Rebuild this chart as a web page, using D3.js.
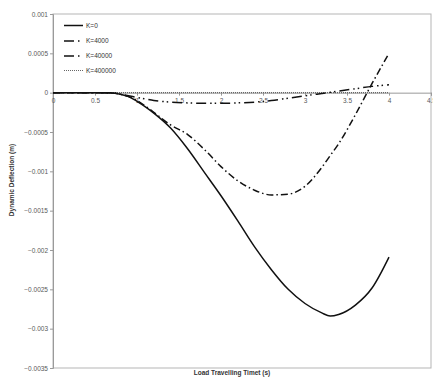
<!DOCTYPE html>
<html>
<head>
<meta charset="utf-8">
<script src="https://cdn.jsdelivr.net/npm/d3@7"></script>
<style>
  body { margin: 0; background: #fff; }
  svg { display: block; font-family: "Liberation Sans", Arial, sans-serif; }
</style>
</head>
<body>
<div id="vis"></div>
<script>
// Data
const TIMES = [0, 0.5, 0.7, 0.8, 0.9, 1.0, 1.1, 1.2, 1.4, 1.6, 1.8, 2.0, 2.2, 2.4, 2.6, 2.8, 3.0, 3.2, 3.3, 3.4, 3.6, 3.8, 4.0];
const K0 =      [0, 0, -0.000005, -0.00002, -0.00005, -0.00011, -0.00018, -0.00026, -0.00045, -0.00071, -0.00101, -0.00131, -0.00163, -0.00196, -0.00225, -0.0025, -0.00268, -0.0028, -0.00284, -0.00282, -0.0027, -0.00248, -0.00209];
const K4000 =   [0, 0, -0.000005, -0.00002, -0.00005, -0.0001, -0.00017, -0.00025, -0.00041, -0.00053, -0.00072, -0.00094, -0.00112, -0.00124, -0.0013, -0.00129, -0.00119, -0.00095, -0.0008, -0.00065, -0.00028, 0.00012, 0.0005];
const K40000 =  [0, 0, 0, -0.00002, -0.00004, -0.00006, -0.00008, -0.0001, -0.00012, -0.00013, -0.000135, -0.000135, -0.00013, -0.00012, -0.0001, -0.00007, -0.00004, -0.00001, 0.000005, 0.00002, 0.00005, 0.00008, 0.0001];
const K400000 = [0, 0, 0, 0, 0, 0, 0, 0, 0, 0, 0, 0, 0, 0, 0, 0, 0, 0, 0, 0, 0, 0, 0];
const SERIES_NAMES = ["K=0", "K=4000", "K=40000", "K=400000"];
const X_TICKS = [0, 0.5, 1, 1.5, 2, 2.5, 3, 3.5, 4, 4.5];
const Y_TICKS = [0.001, 0.0005, 0, -0.0005, -0.001, -0.0015, -0.002, -0.0025, -0.003, -0.0035];

const WIDTH = 433, HEIGHT = 379;
const PLOT = {left: 53, right: 431, top: 14, bottom: 368};

const X_SCALE = d3.scaleLinear().domain([0, 4.5]).range([PLOT.left, PLOT.right]);
const Y_SCALE = d3.scaleLinear().domain([0.001, -0.0035]).range([PLOT.top, PLOT.bottom]);

const svg = d3.select("#vis").append("svg")
    .attr("width", WIDTH)
    .attr("height", HEIGHT);

// plot border
svg.append("rect")
    .attr("x", PLOT.left).attr("y", PLOT.top)
    .attr("width", PLOT.right - PLOT.left)
    .attr("height", PLOT.bottom - PLOT.top)
    .attr("fill", "none")
    .attr("stroke", "#b5b5b5")
    .attr("stroke-width", 1);

// y axis
const yAxis = svg.append("g")
    .attr("transform", "translate(" + PLOT.left + ",0)")
    .call(d3.axisLeft(Y_SCALE).tickValues(Y_TICKS).tickSize(3).tickFormat(d => d3.format("")(+d.toPrecision(6))));
yAxis.select(".domain").attr("stroke", "#9a9a9a");
yAxis.selectAll(".tick line").attr("stroke", "#9a9a9a");
yAxis.selectAll(".tick text")
    .attr("fill", "#595959")
    .attr("font-size", "6.5px")
    .attr("font-family", "Liberation Sans, Arial, sans-serif")
    .attr("x", -5);

// x axis at zero (the last label runs off the right edge, as in the original)
const xAxis = svg.append("g")
    .attr("transform", "translate(0," + Y_SCALE(0) + ")")
    .call(d3.axisBottom(X_SCALE).tickValues(X_TICKS).tickSize(3).tickFormat(d => String(d)));
xAxis.select(".domain").attr("stroke", "#9a9a9a");
xAxis.selectAll(".tick line").attr("stroke", "#9a9a9a");
xAxis.selectAll(".tick text")
    .attr("fill", "#595959")
    .attr("font-size", "6.5px")
    .attr("font-family", "Liberation Sans, Arial, sans-serif")
    .attr("y", 6);

// series
const STYLES = [
    {dash: null, width: 1.5, color: "#111"},
    {dash: "7,3,1.5,3", width: 1.5, color: "#111"},
    {dash: "10,4,1.5,3,1.5,4", width: 1.5, color: "#111"},
    {dash: "1,1", width: 1.2, color: "#666"}
];
const ALL = [K0, K4000, K40000, K400000];

const line = d3.line()
    .x((d, i) => X_SCALE(TIMES[i]))
    .y(d => Y_SCALE(d))
    .curve(d3.curveMonotoneX);

// draw the dotted one first, then the others on top
[3, 2, 1, 0].forEach(i => {
    svg.append("path")
        .datum(ALL[i])
        .attr("d", line)
        .attr("fill", "none")
        .attr("stroke", STYLES[i].color)
        .attr("stroke-width", STYLES[i].width)
        .attr("stroke-dasharray", STYLES[i].dash);
});

// legend
const LEG_Y = [25.5, 41, 56, 70.5];
SERIES_NAMES.forEach((name, i) => {
    svg.append("line")
        .attr("x1", 64).attr("x2", 83)
        .attr("y1", LEG_Y[i]).attr("y2", LEG_Y[i])
        .attr("stroke", STYLES[i].color)
        .attr("stroke-width", STYLES[i].width)
        .attr("stroke-dasharray", i === 1 || i === 2 ? "10,4,1.5,6" : STYLES[i].dash);
    svg.append("text")
        .attr("x", 86).attr("y", LEG_Y[i] + 2.2)
        .attr("font-size", "6.5px")
        .attr("fill", "#333")
        .text(name);
});

// axis titles
svg.append("text")
    .attr("transform", "translate(14,180) rotate(-90)")
    .attr("text-anchor", "middle")
    .attr("font-size", "6.5px")
    .attr("font-weight", "bold")
    .attr("fill", "#333")
    .text("Dynamic Deflection (m)");

svg.append("text")
    .attr("x", 232).attr("y", 375)
    .attr("text-anchor", "middle")
    .attr("font-size", "6.5px")
    .attr("font-weight", "bold")
    .attr("fill", "#333")
    .text("Load Travelling Timet (s)");
</script>
</body>
</html>
